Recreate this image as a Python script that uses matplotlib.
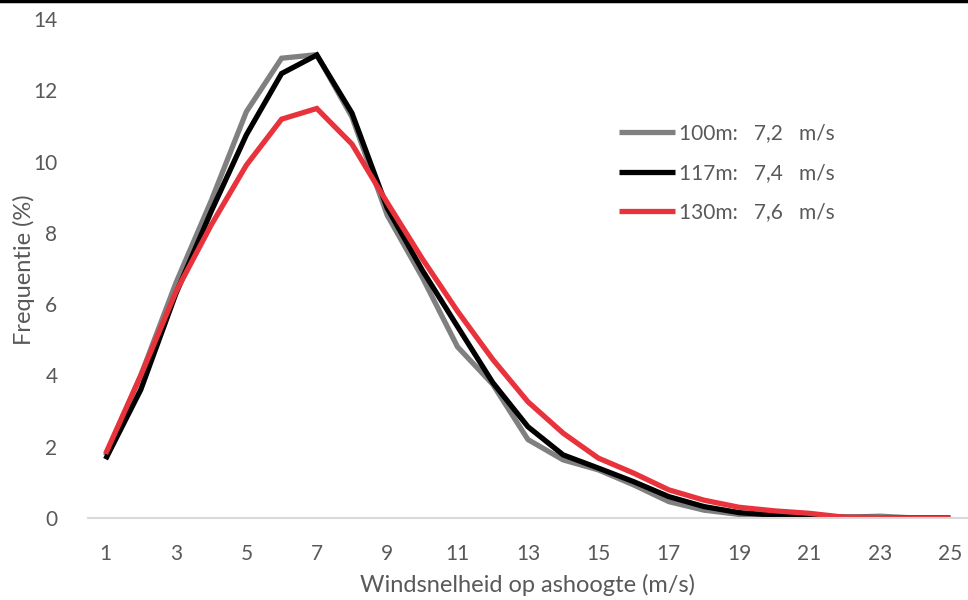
import matplotlib
matplotlib.use("Agg")
import matplotlib.pyplot as plt
from matplotlib.lines import Line2D

speeds = list(range(1, 26))
freq_100m = [1.75, 4.0, 6.6, 8.9, 11.4, 12.9, 13.0, 11.25, 8.5, 6.75, 4.8, 3.75, 2.2, 1.63, 1.35, 0.93, 0.46, 0.22, 0.1, 0.05, 0.03, 0.02, 0.05, 0.0, 0.0]
freq_117m = [1.65, 3.6, 6.3, 8.6, 10.75, 12.47, 12.99, 11.36, 8.7, 6.95, 5.37, 3.8, 2.56, 1.77, 1.4, 1.02, 0.6, 0.32, 0.15, 0.08, 0.07, 0.02, 0.01, 0.0, 0.0]
freq_130m = [1.8, 4.0, 6.35, 8.22, 9.9, 11.19, 11.49, 10.49, 8.85, 7.27, 5.8, 4.45, 3.26, 2.38, 1.68, 1.26, 0.79, 0.5, 0.3, 0.2, 0.13, 0.02, 0.01, 0.0, 0.0]
labels = ["100m:   7,2   m/s", "117m:   7,4   m/s", "130m:   7,6   m/s"]
colors = ["#808080", "#000000", "#E8323C"]
xticks = list(range(1, 26, 2))
yticks = list(range(0, 15, 2))

plt.rcParams['font.family'] = ['Lato', 'DejaVu Sans']

fig = plt.figure(figsize=(9.68, 6.0), dpi=100)
ax = fig.add_axes([0.0909, 0.1367, 0.909, 0.8316])

for series, lab, col in zip([freq_100m, freq_117m, freq_130m], labels, colors):
    ax.plot(speeds, series, color=col, lw=3.8, label=lab, solid_joinstyle='miter', solid_capstyle='butt')

ax.set_xlim(0.5, 25.5)
ax.set_ylim(0, 14)
ax.set_xticks(xticks)
ax.set_yticks(yticks)
ax.tick_params(axis='both', length=0, labelsize=15, labelcolor='#595959')
ax.tick_params(axis='x', pad=19)
ax.tick_params(axis='y', pad=22)
for s in ['top', 'right', 'left']:
    ax.spines[s].set_visible(False)
ax.spines['bottom'].set_color('#D9D9D9')
ax.spines['bottom'].set_linewidth(1.5)

ax.set_xlabel("Windsnelheid op ashoogte (m/s)", fontsize=17, color='#595959', labelpad=7)
ax.set_ylabel("Frequentie (%)", fontsize=17, color='#595959')
ax.yaxis.set_label_coords(-0.06, 0.497)

leg = ax.legend(loc='upper left', bbox_to_anchor=(619/968, 1 - 123/600), bbox_transform=fig.transFigure,
                frameon=False, fontsize=15, handlelength=2.7, handletextpad=0.2, labelspacing=0.95,
                borderpad=0, borderaxespad=0)
for t in leg.get_texts():
    t.set_color('#595959')

fig.add_artist(Line2D([0, 1], [0.998, 0.998], transform=fig.transFigure, color='black', lw=2.5))

fig.savefig("out.png", dpi=100)
